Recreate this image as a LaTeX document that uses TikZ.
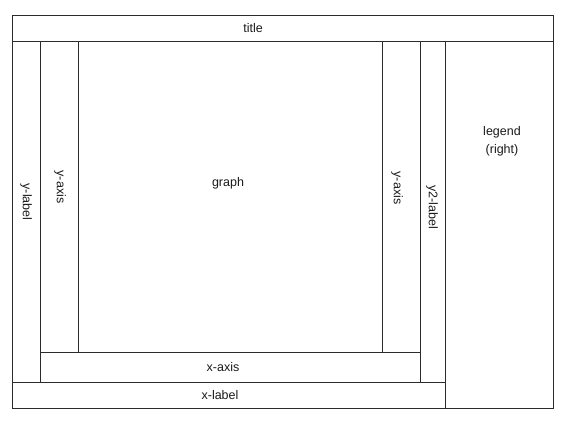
\documentclass[tikz,border=0pt]{standalone}
\usepackage{fontspec}
\setmainfont{Liberation Sans}
\usepackage{xcolor}
\definecolor{layoutLine}{HTML}{2B2B2B}
\definecolor{layoutText}{HTML}{1A1A1A}

\begin{document}
\begin{tikzpicture}[x=1pt, y=-1pt, font=\fontsize{12.5}{18}\selectfont]
  \filldraw[fill=white, draw=none] (0,0) rectangle (571,424);
  \useasboundingbox (0,0) rectangle (571,424);
  \draw[layoutLine, line width=1pt] (12,15) rectangle (553,41);
  \draw[layoutLine, line width=1pt] (12,41) rectangle (40,382);
  \draw[layoutLine, line width=1pt] (40,41) rectangle (78,352);
  \draw[layoutLine, line width=1pt] (382,41) rectangle (420,352);
  \draw[layoutLine, line width=1pt] (420,41) rectangle (445,382);
  \draw[layoutLine, line width=1pt] (40,352) rectangle (420,382);
  \draw[layoutLine, line width=1pt] (12,382) rectangle (445,408);
  \draw[layoutLine, line width=1pt] (445,41) rectangle (553,408);
  \node[text=layoutText] (title) at (253,28) {title};
  \node[text=layoutText, rotate=-90] (ylabel) at (26,202) {y-label};
  \node[text=layoutText, rotate=-90] (yaxisL) at (60,187) {y-axis};
  \node[text=layoutText] (graph) at (228,183) {graph};
  \node[text=layoutText, rotate=-90] (yaxisR) at (397,188) {y-axis};
  \node[text=layoutText, rotate=-90] (ytwolabel) at (432,207) {y2-label};
  \node[text=layoutText, align=center] (legend) at (502,141) {legend\\(right)};
  \node[text=layoutText] (xaxis) at (223,367) {x-axis};
  \node[text=layoutText] (xlabel) at (220,395) {x-label};
\end{tikzpicture}
\end{document}
